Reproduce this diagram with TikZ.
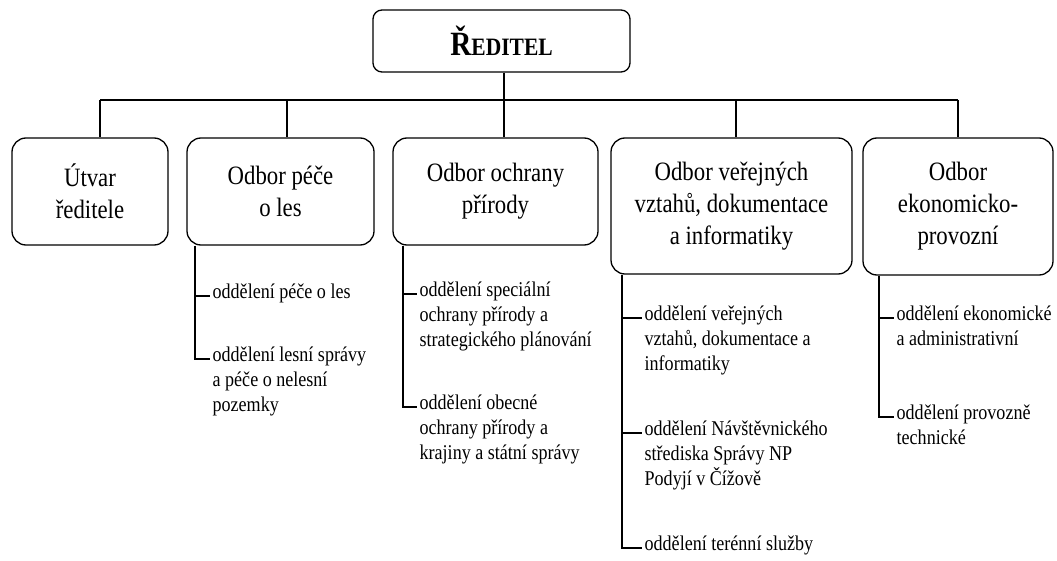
\documentclass[tikz,border=0pt]{standalone}
\usepackage{fontspec}
\setmainfont{Liberation Serif}[FakeStretch=0.86]
\newcommand\deptfont{\fontsize{26.5}{32}\selectfont}
\newcommand\unitfont{\fontsize{21}{25}\selectfont}
\newcommand\unitlines[1]{\begin{tabular}[t]{@{}l@{}}#1\end{tabular}}
\begin{document}
\begin{tikzpicture}[x=1pt, y=-1pt, line width=1.3pt,
    dept/.style={draw, rectangle, rounded corners=14pt, align=center, inner sep=0pt, font=\deptfont},
    unit/.style={anchor=mid west, inner xsep=2pt, inner ysep=0pt, font=\unitfont}]
    \useasboundingbox (0,0) rectangle (1057,561);
    \node[draw, rectangle, rounded corners=9pt, minimum width=257pt, minimum height=62pt, inner sep=0pt] (red) at (501.5,41)
      {\bfseries\fontsize{34}{40}\selectfont Ř\fontsize{25}{30}\selectfont EDITEL};
    \node[dept, minimum width=156pt, minimum height=107pt] (utv) at (90,191.5) {Útvar\\ředitele};
    \node[dept, minimum width=187pt, minimum height=107pt] (pec) at (280.5,191.5) {Odbor péče\\o les};
    \node[dept, minimum width=205pt, minimum height=107pt] (och) at (495.5,191.5) {Odbor ochrany\\přírody};
    \node[dept, minimum width=241pt, minimum height=136pt] (vzt) at (731.5,206) {Odbor veřejných\\vztahů, dokumentace\\a informatiky};
    \node[dept, minimum width=190pt, minimum height=137pt] (eko) at (958,206.5) {Odbor\\ekonomicko-\\provozní};
    % bus
    \coordinate (b1) at (100,100);
    \coordinate (b2) at (287,100);
    \coordinate (b3) at (504,100);
    \coordinate (b4) at (736,100);
    \coordinate (b5) at (958,100);
    \draw (b3 |- red.south) -- (b3);
    \draw (b1) -- (b5);
    \draw (b1) -- (b1 |- utv.north);
    \draw (b2) -- (b2 |- pec.north);
    \draw (b3) -- (b3 |- och.north);
    \draw (b4) -- (b4 |- vzt.north);
    \draw (b5) -- (b5 |- eko.north);
    % oddeleni
    \node[unit] (pec1) at (210,296) {oddělení péče o les};
    \node[unit] (pec2) at (210,359) {\unitlines{oddělení lesní správy\\a péče o nelesní\\pozemky}};
    \node[unit] (och1) at (417,294) {\unitlines{oddělení speciální\\ochrany přírody a\\strategického plánování}};
    \node[unit] (och2) at (417,407) {\unitlines{oddělení obecné\\ochrany přírody a\\krajiny a státní správy}};
    \node[unit] (vzt1) at (642,318) {\unitlines{oddělení veřejných\\vztahů, dokumentace a\\informatiky}};
    \node[unit] (vzt2) at (642,433) {\unitlines{oddělení Návštěvnického\\střediska Správy NP\\Podyjí v Čížově}};
    \node[unit] (vzt3) at (642,548) {oddělení terénní služby};
    \node[unit] (eko1) at (894,318) {\unitlines{oddělení ekonomické\\a administrativní}};
    \node[unit] (eko2) at (894,417) {\unitlines{oddělení provozně\\technické}};
    \coordinate (t2) at (195,0);
    \coordinate (t3) at (403,0);
    \coordinate (t4) at (622,0);
    \coordinate (t5) at (879,0);
    \draw (t2 |- pec.south) |- (pec2.mid west);
    \draw (t2 |- pec1.mid west) -- (pec1.mid west);
    \draw (t3 |- och.south) |- (och2.mid west);
    \draw (t3 |- och1.mid west) -- (och1.mid west);
    \draw (t4 |- vzt.south) |- (vzt3.mid west);
    \draw (t4 |- vzt1.mid west) -- (vzt1.mid west);
    \draw (t4 |- vzt2.mid west) -- (vzt2.mid west);
    \draw (t5 |- eko.south) |- (eko2.mid west);
    \draw (t5 |- eko1.mid west) -- (eko1.mid west);
  \end{tikzpicture}
\end{document}
